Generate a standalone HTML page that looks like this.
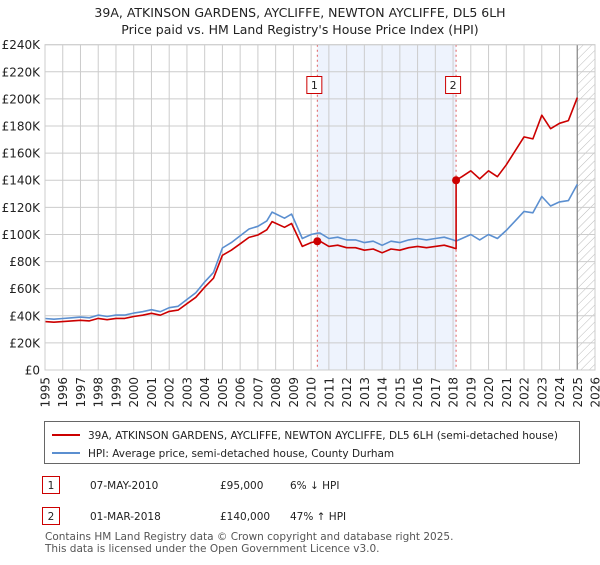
<!DOCTYPE html>
<html><head><meta charset="utf-8"><style>
body{margin:0;width:600px;height:560px;background:#fff;font-family:"Liberation Sans","DejaVu Sans",sans-serif;overflow:hidden}
svg text{font-family:"DejaVu Sans","Liberation Sans",sans-serif}
</style></head><body>
<svg id="c" width="600" height="560" viewBox="0 0 600 560">
<text x="300" y="17" text-anchor="middle" font-size="12.5" fill="#222">39A, ATKINSON GARDENS, AYCLIFFE, NEWTON AYCLIFFE, DL5 6LH</text>
<text x="300" y="34" text-anchor="middle" font-size="12.5" fill="#222">Price paid vs. HM Land Registry's House Price Index (HPI)</text>
<g id="plot"></g>
<g>
<rect x="44.5" y="421.5" width="535" height="42" fill="#fff" stroke="#666"/>
<line x1="52" y1="435" x2="80" y2="435" stroke="#cc0000" stroke-width="2"/>
<text x="88" y="439" font-size="10.5" fill="#222">39A, ATKINSON GARDENS, AYCLIFFE, NEWTON AYCLIFFE, DL5 6LH (semi-detached house)</text>
<line x1="52" y1="453" x2="80" y2="453" stroke="#5b8fd0" stroke-width="2"/>
<text x="88" y="457" font-size="10.5" fill="#222">HPI: Average price, semi-detached house, County Durham</text>
</g>
<g font-size="10.5" fill="#222">
<rect x="42.5" y="476.5" width="17" height="17" fill="#fff" stroke="#cc0000"/>
<text x="51" y="489" text-anchor="middle">1</text>
<text x="90" y="489">07-MAY-2010</text><text x="220" y="489">£95,000</text><text x="290" y="489">6% ↓ HPI</text>
<rect x="42.5" y="507.5" width="17" height="17" fill="#fff" stroke="#cc0000"/>
<text x="51" y="520" text-anchor="middle">2</text>
<text x="90" y="520">01-MAR-2018</text><text x="220" y="520">£140,000</text><text x="290" y="520">47% ↑ HPI</text>
</g>
<text x="45" y="540" font-size="10.5" fill="#555">Contains HM Land Registry data © Crown copyright and database right 2025.</text>
<text x="45" y="552" font-size="10.5" fill="#555">This data is licensed under the Open Government Licence v3.0.</text>
</svg>
<script>
const hpiDates=[1995,1995.5,1996,1996.5,1997,1997.5,1998,1998.5,1999,1999.5,2000,2000.5,2001,2001.5,2002,2002.5,2003,2003.5,2004,2004.5,2005,2005.5,2006,2006.5,2007,2007.5,2007.8,2008.5,2008.9,2009.5,2010,2010.35,2010.5,2011,2011.5,2012,2012.5,2013,2013.5,2014,2014.5,2015,2015.5,2016,2016.5,2017,2017.5,2018,2018.17,2018.5,2019,2019.5,2020,2020.5,2021,2021.5,2022,2022.5,2023,2023.5,2024,2024.5,2025];
const hpiValues=[38,37.5,38,38.5,39,38.5,40.5,39.5,40.5,40.5,42,43,44.5,43,46,47,52,57,65,72,90,94,99,104,106,110,116.5,112,115,97,100,101,101,97,98,96,96,94,95,92,95,94,96,97,96,97,98,96,95.2,97,100,96,100,97,103,110,117,116,128,121,124,125,137];
const priceDates=[1995,1995.5,1996,1996.5,1997,1997.5,1998,1998.5,1999,1999.5,2000,2000.5,2001,2001.5,2002,2002.5,2003,2003.5,2004,2004.5,2005,2005.5,2006,2006.5,2007,2007.5,2007.8,2008.5,2008.9,2009.5,2010,2010.35,2010.5,2011,2011.5,2012,2012.5,2013,2013.5,2014,2014.5,2015,2015.5,2016,2016.5,2017,2017.5,2018,2018.17,2018.17,2018.5,2019,2019.5,2020,2020.5,2021,2021.5,2022,2022.5,2023,2023.5,2024,2024.5,2025];
const priceValues=[35.7,35.3,35.7,36.2,36.7,36.2,38.1,37.1,38.1,38.1,39.5,40.4,41.8,40.4,43.2,44.2,48.9,53.6,61.1,67.7,84.6,88.4,93.1,97.8,99.6,103.4,109.5,105.3,108.1,91.2,94,95,95,91.2,92.1,90.2,90.2,88.4,89.3,86.5,89.3,88.4,90.2,91.2,90.2,91.2,92.1,90.2,89.5,140,142.6,147,141,147,142.6,151.4,161.7,172,170.5,188,178,182,184,201];
const sales=[{d:2010.35,v:95,l:"1"},{d:2018.17,v:140,l:"2"}];
const yTicks=[0,20,40,60,80,100,120,140,160,180,200,220,240];
const xTicks=[1995,1996,1997,1998,1999,2000,2001,2002,2003,2004,2005,2006,2007,2008,2009,2010,2011,2012,2013,2014,2015,2016,2017,2018,2019,2020,2021,2022,2023,2024,2025,2026];
const X0=45,X1=595,Y0=370,Y1=44.7;
const x=d=>X0+(d-1995)/(2026-1995)*(X1-X0);
const y=v=>Y0-v/240*(Y0-Y1);
const NS="http://www.w3.org/2000/svg";
const g=document.getElementById('plot');
function mk(t,a,p){const e=document.createElementNS(NS,t);for(const k in a)e.setAttribute(k,a[k]);(p||g).appendChild(e);return e;}
const defs=mk('defs',{});
const pat=mk('pattern',{id:'hatch',width:6,height:6,patternUnits:'userSpaceOnUse',patternTransform:'rotate(45)'},defs);
mk('line',{x1:0,y1:0,x2:0,y2:6,stroke:'#bbb','stroke-width':1},pat);
let e=mk('rect',{x:x(sales[0].d),y:Y1,width:x(sales[1].d)-x(sales[0].d),height:Y0-Y1,fill:'#eef3fd'});

e=mk('rect',{x:x(2025),y:Y1,width:X1-x(2025),height:Y0-Y1,fill:'url(#hatch)'});

yTicks.forEach(v=>{
 const l=mk('line',{x1:X0,x2:X1,y1:y(v),y2:y(v),stroke:'#ccc'});
 
 const t=mk('text',{x:40,y:y(v)+4.5,'text-anchor':'end','font-size':12,fill:'#222'});
 t.textContent=v===0?'£0':'£'+v+'K';
 
});
xTicks.forEach(d=>{
 const l=mk('line',{x1:x(d),x2:x(d),y1:Y1,y2:Y0,stroke:'#ccc'});
 
 const tx=x(d)+4.5,ty=377;
 const t=mk('text',{x:tx,y:ty,'text-anchor':'end','font-size':12,fill:'#222',transform:`rotate(-90 ${tx} ${ty})`});
 t.textContent=d;
 
});
e=mk('line',{x1:x(2025),x2:x(2025),y1:Y1,y2:Y0,stroke:'#888','stroke-width':1.2});

sales.forEach(s=>{
 const l=mk('line',{x1:x(s.d),x2:x(s.d),y1:Y1,y2:Y0,stroke:'#e06060','stroke-dasharray':'2,3'});
 
});
function path(ds,vs,col,name){
 const p=mk('path',{d:ds.map((d,i)=>(i?'L':'M')+x(d).toFixed(1)+','+y(vs[i]).toFixed(1)).join(''),fill:'none',stroke:col,'stroke-width':1.6,'stroke-linejoin':'round'});
 
}
path(hpiDates,hpiValues,'#5b8fd0','hpi-line');
path(priceDates,priceValues,'#cc0000','price-paid-line');
sales.forEach(s=>{
 const c=mk('circle',{cx:x(s.d),cy:y(s.v),r:4,fill:'#cc0000'});
 
 const r=mk('rect',{x:x(s.d)-10.5,y:76.5,width:15,height:17,fill:'#fff',stroke:'#cc0000'});
 
 const t=mk('text',{x:x(s.d)-3,y:89,'text-anchor':'middle','font-size':11,fill:'#222'});
 t.textContent=s.l;
 
});
e=mk('rect',{x:X0,y:Y1,width:X1-X0,height:Y0-Y1,fill:'none',stroke:'#ccc'});

</script>
</body></html>
